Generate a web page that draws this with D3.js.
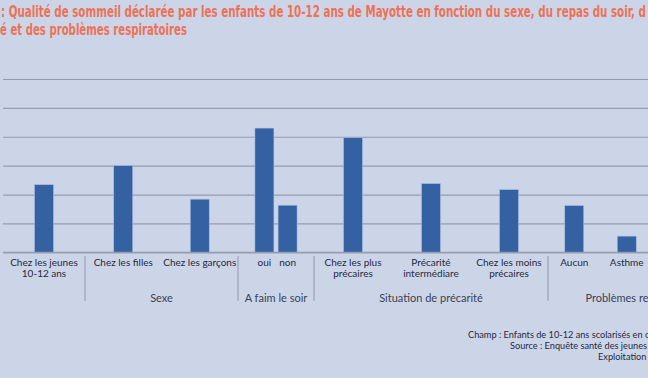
<!DOCTYPE html>
<html><head><meta charset="utf-8">
<script src="https://cdn.jsdelivr.net/npm/d3@7"></script>
<style>
html,body{margin:0;padding:0;background:#ccd5e8;}
svg{display:block;}
</style></head>
<body>
<script>
// ---- data ----
const titleLines = [": Qualité de sommeil déclarée par les enfants de 10-12 ans de Mayotte en fonction du sexe, du repas du soir, d",
                    "é et des problèmes respiratoires"];
const groupNames = ["", "Sexe", "A faim le soir", "Situation de précarité", "Problèmes respiratoires"];
const categories = ["Chez les jeunes|10-12 ans", "Chez les filles", "Chez les garçons", "oui", "non",
                    "Chez les plus|précaires", "Précarité|intermédiare", "Chez les moins|précaires", "Aucun", "Asthme"];
const categoryGroup = [0, 1, 1, 2, 2, 3, 3, 3, 4, 4];
const values = [23.4, 30.0, 18.4, 43.0, 16.3, 39.7, 23.8, 21.7, 16.2, 5.6];
const yTicks = [0, 10, 20, 30, 40, 50, 60];
const footnotes = ["Champ : Enfants de 10-12 ans scolarisés en cl", "Source : Enquête santé des jeunes", "Exploitation :"];

// ---- layout ----
const W = 648, H = 378;
const groupLayout = [
  {range: [3, 85],   pad: 0},
  {range: [85, 238], pad: 0},
  {range: [238, 314], pad: 0.64},
  {range: [314, 548], pad: 0},
  {range: [548, 653], pad: 0, labelRange: [548, 736]}
];
const barW = 19;

const svg = d3.select("body").append("svg").attr("width", W).attr("height", H);
svg.append("rect").attr("width", W).attr("height", H).attr("fill", "#ccd5e8");

// title
const titleFont = "'Liberation Sans Narrow', 'DejaVu Sans Condensed', sans-serif";
svg.append("text").attr("x", 1).attr("y", 17)
  .attr("font-family", titleFont)
  .attr("font-weight", "bold").attr("font-size", 15).attr("fill", "#ec7256")
  .attr("textLength", 645).attr("lengthAdjust", "spacingAndGlyphs")
  .text(titleLines[0]);
svg.append("text").attr("x", 0).attr("y", 35)
  .attr("font-family", titleFont)
  .attr("font-weight", "bold").attr("font-size", 15).attr("fill", "#ec7256")
  .attr("textLength", 187).attr("lengthAdjust", "spacingAndGlyphs")
  .text(titleLines[1]);

// scales
const y = d3.scaleLinear().domain([0, 60]).range([252.3, 79]);
const inner = groupLayout.map((g, gi) => d3.scaleBand()
  .domain(categories.filter((c, i) => categoryGroup[i] === gi))
  .range(g.range).paddingInner(0).paddingOuter(g.pad));
const xCenter = i => { const s = inner[categoryGroup[i]]; return s(categories[i]) + s.bandwidth() / 2; };

// gridlines
const yAxis = d3.axisLeft(y).tickValues(yTicks).tickSize(-(W - 3)).tickFormat("");
const ga = svg.append("g").attr("transform", "translate(3,0)").call(yAxis);
ga.select(".domain").remove();
ga.selectAll(".tick line").attr("stroke", "#969cad").attr("stroke-width", 1.2);

// bars
svg.append("g").selectAll("rect").data(values).join("rect")
  .attr("x", (d, i) => xCenter(i) - barW / 2)
  .attr("y", d => y(d))
  .attr("width", barW)
  .attr("height", d => y(0) - y(d))
  .attr("fill", "#3461a1")
  .attr("stroke", "#a8bce0").attr("stroke-width", 0.6);

// baseline
svg.append("line").attr("x1", 3).attr("x2", W).attr("y1", y(0)).attr("y2", y(0))
  .attr("stroke", "#969cad").attr("stroke-width", 1.2);

// category labels
const lab = svg.append("g").attr("font-family", "Lato, sans-serif").attr("font-size", 10)
  .attr("fill", "#1f2940").attr("text-anchor", "middle");
categories.forEach((c, i) => {
  const t = lab.append("text").attr("x", xCenter(i)).attr("y", 266);
  c.split("|").forEach((ln, k) => t.append("tspan").attr("x", xCenter(i)).attr("dy", k ? 11 : 0).text(ln));
});

// group separators and names
const seps = groupLayout.slice(1).map(g => g.range[0]);
svg.append("g").selectAll("line").data(seps).join("line")
  .attr("x1", d => d).attr("x2", d => d).attr("y1", 256).attr("y2", 301)
  .attr("stroke", "#9096a8").attr("stroke-width", 1);
svg.append("g").attr("font-family", "Lato, sans-serif").attr("font-size", 11)
  .attr("fill", "#3a4256").attr("text-anchor", "middle")
  .selectAll("text").data(groupNames).join("text")
  .attr("x", (d, i) => { const r = groupLayout[i].labelRange || groupLayout[i].range; return (r[0] + r[1]) / 2; })
  .attr("y", 302).text(d => d);

// footnotes
const fx = [468, 510, 598];
svg.append("g").attr("font-family", "Lato, sans-serif").attr("font-size", 9.2).attr("fill", "#1f2940")
  .selectAll("text").data(footnotes).join("text")
  .attr("x", (d, i) => fx[i]).attr("y", (d, i) => 337.5 + i * 11).text(d => d);
</script>
</body></html>
